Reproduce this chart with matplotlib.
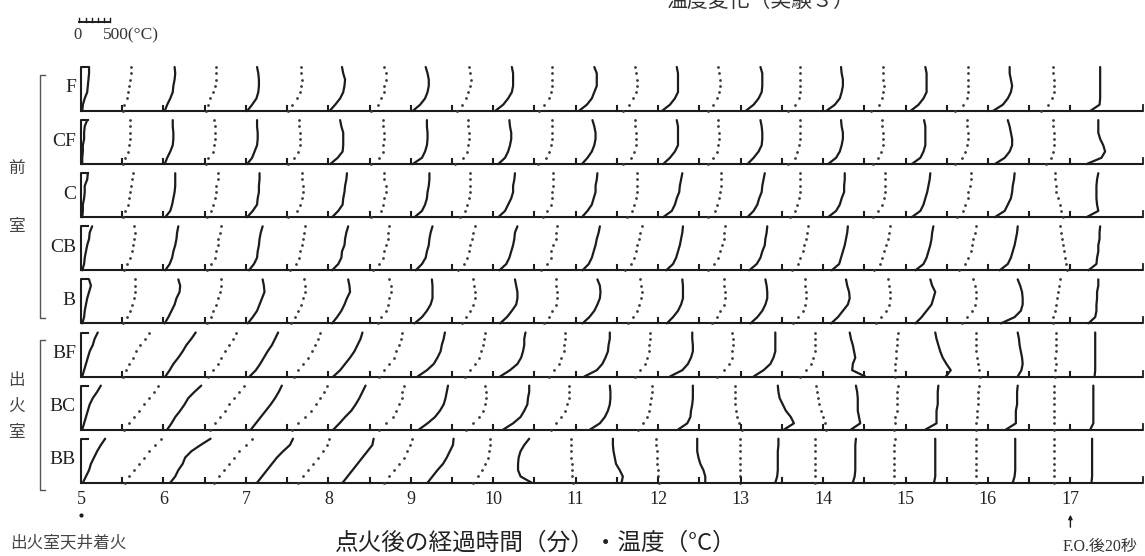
import numpy as np
import matplotlib
matplotlib.use("Agg")
import matplotlib.pyplot as plt

# sensor rows, top to bottom
rows = ["F", "CF", "C", "CB", "B", "BF", "BC", "BB"]

# measurement times (minutes after ignition)
times = [5.0, 5.5, 6.0, 6.5, 7.0, 7.5, 8.0, 8.5, 9.0, 9.5, 10.0, 10.5, 11.0,
         11.5, 12.0, 12.5, 13.0, 13.5, 14.0, 14.5, 15.0, 15.5, 16.0, 16.5, 17.0]
minute_labels = [5, 6, 7, 8, 9, 10, 11, 12, 13, 14, 15, 16, 17]

# temperature (deg C) at each thermocouple, floor -> ceiling, one list per time
F = [
    [20, 30, 60, 100, 110, 120, 130, 130],
    [20, 30, 70, 90, 110, 130, 140, 140],
    [20, 60, 110, 150, 160, 180, 190, 180],
    [20, 50, 80, 130, 160, 180, 190, 180],
    [20, 100, 170, 200, 210, 210, 200, 180],
    [20, 80, 160, 200, 220, 240, 230, 220],
    [20, 110, 190, 240, 260, 270, 240, 220],
    [20, 130, 190, 230, 240, 270, 270, 240],
    [30, 150, 230, 270, 290, 290, 270, 240],
    [80, 160, 220, 260, 290, 300, 290, 270],
    [30, 160, 240, 300, 320, 320, 320, 300],
    [80, 160, 240, 270, 290, 290, 290, 290],
    [50, 180, 260, 300, 340, 340, 340, 300],
    [100, 190, 260, 300, 320, 320, 300, 290],
    [60, 190, 270, 320, 320, 320, 320, 300],
    [140, 220, 290, 320, 340, 340, 320, 300],
    [80, 210, 290, 340, 350, 350, 350, 320],
    [100, 210, 270, 290, 300, 300, 290, 290],
    [50, 190, 270, 300, 320, 320, 300, 290],
    [110, 240, 290, 300, 320, 300, 300, 300],
    [80, 210, 290, 340, 340, 340, 340, 320],
    [140, 260, 320, 350, 350, 350, 350, 350],
    [80, 240, 320, 370, 390, 370, 350, 350],
    [190, 300, 370, 400, 400, 400, 390, 390],
    [320, 470, 480, 480, 480, 480, 480, 480],
]
CF = [
    [20, 20, 30, 30, 50, 50, 60, 100],
    [20, 50, 100, 110, 130, 130, 130, 130],
    [20, 60, 110, 150, 160, 160, 150, 150],
    [20, 60, 130, 150, 160, 160, 160, 150],
    [20, 100, 140, 180, 190, 190, 180, 180],
    [20, 110, 180, 210, 210, 210, 190, 190],
    [30, 150, 230, 240, 240, 240, 210, 190],
    [20, 160, 210, 220, 240, 240, 220, 210],
    [30, 180, 230, 260, 270, 270, 260, 260],
    [50, 180, 240, 260, 270, 270, 260, 260],
    [80, 190, 240, 270, 290, 290, 270, 260],
    [60, 190, 240, 270, 290, 290, 290, 290],
    [100, 190, 260, 300, 320, 320, 300, 270],
    [100, 220, 270, 300, 300, 300, 290, 290],
    [80, 190, 270, 320, 320, 320, 320, 300],
    [140, 220, 290, 300, 320, 320, 300, 300],
    [110, 210, 290, 340, 350, 350, 340, 320],
    [100, 210, 240, 270, 290, 290, 290, 290],
    [80, 210, 270, 300, 320, 320, 300, 290],
    [140, 220, 270, 300, 300, 300, 290, 290],
    [100, 240, 290, 320, 320, 320, 320, 300],
    [140, 240, 300, 320, 340, 340, 320, 320],
    [110, 270, 350, 390, 390, 370, 350, 320],
    [270, 350, 390, 400, 400, 400, 390, 390],
    [260, 500, 560, 530, 480, 450, 450, 450],
]
C = [
    [20, 30, 30, 50, 60, 60, 100, 110],
    [20, 50, 100, 110, 130, 140, 160, 180],
    [30, 110, 140, 160, 180, 190, 190, 190],
    [30, 100, 140, 160, 180, 190, 210, 210],
    [20, 110, 180, 190, 210, 210, 220, 220],
    [20, 160, 210, 240, 260, 260, 240, 240],
    [60, 160, 230, 240, 260, 270, 290, 300],
    [30, 190, 210, 240, 260, 260, 240, 240],
    [60, 180, 230, 260, 270, 290, 300, 300],
    [130, 210, 240, 270, 290, 290, 290, 290],
    [80, 190, 240, 290, 320, 320, 340, 350],
    [130, 210, 260, 290, 290, 300, 300, 300],
    [100, 190, 260, 290, 320, 320, 340, 350],
    [160, 240, 270, 300, 320, 320, 320, 320],
    [80, 220, 270, 300, 340, 350, 370, 390],
    [140, 260, 290, 320, 340, 350, 350, 350],
    [110, 210, 270, 300, 340, 350, 370, 390],
    [130, 210, 240, 270, 290, 290, 300, 300],
    [80, 210, 270, 300, 340, 340, 350, 350],
    [140, 220, 290, 320, 340, 340, 340, 340],
    [100, 240, 290, 320, 350, 370, 390, 400],
    [160, 260, 300, 340, 350, 370, 390, 390],
    [110, 270, 320, 370, 390, 400, 420, 430],
    [550, 510, 500, 470, 440, 430, 420, 420],
    [260, 450, 430, 420, 420, 420, 430, 450],
]
CB = [
    [20, 50, 60, 80, 100, 130, 140, 180],
    [30, 80, 130, 160, 180, 190, 210, 190],
    [30, 100, 140, 160, 190, 210, 220, 240],
    [30, 110, 160, 180, 210, 220, 240, 260],
    [50, 130, 180, 190, 210, 220, 240, 270],
    [50, 140, 190, 210, 240, 260, 270, 290],
    [60, 160, 210, 220, 260, 270, 290, 320],
    [50, 160, 220, 240, 270, 290, 300, 320],
    [80, 180, 240, 260, 290, 300, 320, 350],
    [100, 190, 240, 270, 290, 320, 340, 370],
    [100, 210, 260, 290, 320, 340, 350, 390],
    [110, 210, 260, 270, 300, 340, 350, 370],
    [110, 210, 260, 290, 320, 340, 370, 390],
    [130, 220, 270, 300, 320, 350, 370, 400],
    [130, 240, 290, 320, 350, 370, 390, 400],
    [140, 240, 300, 340, 370, 390, 400, 420],
    [140, 260, 320, 350, 390, 400, 420, 430],
    [160, 260, 300, 340, 350, 390, 400, 420],
    [140, 260, 290, 320, 350, 370, 390, 400],
    [160, 260, 290, 320, 350, 390, 400, 420],
    [160, 290, 340, 370, 400, 420, 430, 450],
    [190, 300, 340, 390, 400, 430, 450, 470],
    [190, 320, 370, 400, 430, 450, 470, 480],
    [610, 590, 570, 560, 540, 530, 510, 500],
    [290, 420, 430, 450, 450, 470, 470, 480],
]
B = [
    [20, 50, 60, 80, 100, 130, 160, 130],
    [20, 80, 130, 160, 190, 210, 210, 210],
    [20, 80, 130, 180, 210, 260, 270, 240],
    [30, 100, 130, 180, 210, 240, 260, 260],
    [30, 110, 180, 220, 260, 300, 290, 270],
    [60, 130, 180, 220, 260, 290, 290, 270],
    [60, 140, 210, 260, 300, 350, 340, 320],
    [130, 190, 260, 290, 320, 350, 350, 320],
    [60, 180, 260, 320, 350, 350, 350, 340],
    [160, 220, 290, 340, 370, 370, 350, 340],
    [110, 220, 300, 370, 390, 390, 370, 350],
    [160, 240, 290, 340, 370, 370, 350, 350],
    [110, 220, 300, 350, 390, 400, 390, 350],
    [180, 260, 320, 350, 390, 400, 390, 370],
    [140, 240, 320, 370, 400, 400, 400, 390],
    [210, 290, 340, 390, 420, 420, 400, 390],
    [160, 270, 350, 400, 430, 430, 420, 400],
    [180, 260, 340, 370, 390, 390, 370, 370],
    [130, 240, 320, 400, 430, 420, 390, 370],
    [190, 270, 350, 400, 420, 420, 400, 390],
    [160, 260, 340, 420, 450, 480, 430, 400],
    [240, 320, 400, 450, 470, 470, 450, 430],
    [210, 430, 530, 560, 560, 550, 520, 480],
    [390, 390, 420, 430, 450, 470, 480, 500],
    [290, 400, 420, 420, 430, 430, 450, 450],
]
BF = [
    [20, 50, 80, 110, 140, 190, 220, 270],
    [20, 60, 110, 180, 230, 290, 370, 430],
    [30, 100, 160, 240, 310, 370, 450, 520],
    [50, 130, 210, 270, 320, 390, 450, 500],
    [60, 160, 230, 290, 350, 420, 470, 520],
    [110, 180, 260, 340, 400, 450, 500, 530],
    [80, 190, 270, 350, 420, 470, 520, 550],
    [160, 240, 320, 400, 430, 470, 500, 520],
    [110, 260, 370, 430, 480, 500, 530, 550],
    [210, 290, 370, 430, 470, 500, 520, 530],
    [110, 270, 390, 450, 480, 500, 500, 520],
    [240, 320, 400, 430, 470, 480, 500, 500],
    [140, 340, 430, 480, 520, 530, 550, 550],
    [290, 370, 450, 480, 520, 520, 530, 530],
    [190, 390, 480, 530, 560, 560, 550, 550],
    [290, 390, 470, 520, 530, 550, 550, 530],
    [210, 370, 480, 530, 560, 560, 560, 560],
    [300, 390, 470, 500, 530, 530, 530, 530],
    [680, 470, 480, 520, 500, 480, 450, 430],
    [500, 500, 500, 510, 510, 520, 530, 550],
    [650, 730, 660, 600, 560, 530, 500, 480],
    [530, 520, 500, 490, 480, 480, 470, 470],
    [480, 540, 560, 550, 530, 510, 500, 480],
    [420, 420, 430, 420, 430, 430, 430, 430],
    [390, 400, 400, 400, 400, 400, 400, 400],
]
BC = [
    [20, 50, 80, 110, 140, 190, 260, 320],
    [30, 110, 190, 270, 350, 430, 520, 580],
    [60, 130, 190, 270, 340, 400, 500, 610],
    [80, 160, 240, 320, 400, 480, 560, 630],
    [80, 160, 240, 320, 400, 470, 530, 580],
    [80, 180, 290, 390, 470, 530, 600, 650],
    [80, 180, 270, 370, 440, 500, 550, 600],
    [160, 270, 370, 430, 480, 520, 530, 560],
    [130, 270, 390, 470, 530, 560, 580, 600],
    [230, 340, 430, 500, 530, 550, 550, 530],
    [160, 320, 440, 500, 550, 560, 580, 580],
    [260, 350, 430, 500, 530, 560, 560, 560],
    [230, 390, 470, 520, 550, 560, 560, 550],
    [340, 420, 480, 520, 530, 550, 560, 560],
    [320, 470, 520, 530, 550, 560, 560, 560],
    [690, 640, 600, 590, 580, 580, 580, 580],
    [700, 860, 810, 730, 680, 630, 610, 600],
    [710, 690, 660, 630, 600, 580, 560, 550],
    [450, 600, 580, 560, 560, 560, 550, 530],
    [480, 500, 500, 520, 520, 520, 530, 550],
    [320, 500, 500, 500, 520, 520, 520, 530],
    [480, 480, 490, 490, 500, 500, 510, 520],
    [290, 450, 450, 450, 470, 470, 470, 480],
    [400, 400, 400, 400, 400, 400, 400, 400],
    [320, 370, 370, 370, 370, 370, 370, 370],
]
BB = [
    [30, 80, 130, 160, 210, 260, 320, 390],
    [50, 110, 190, 270, 350, 430, 530, 630],
    [110, 190, 240, 310, 350, 450, 600, 760],
    [150, 230, 310, 390, 470, 550, 660, 770],
    [180, 260, 340, 420, 500, 600, 710, 760],
    [180, 260, 340, 420, 500, 580, 650, 680],
    [230, 310, 390, 470, 550, 630, 710, 730],
    [240, 320, 400, 480, 560, 610, 660, 680],
    [270, 350, 430, 520, 580, 630, 680, 690],
    [340, 420, 480, 530, 580, 600, 610, 610],
    [620, 440, 400, 400, 410, 440, 500, 580],
    [620, 610, 600, 600, 590, 590, 590, 590],
    [740, 760, 710, 650, 630, 610, 600, 600],
    [680, 670, 660, 650, 640, 640, 630, 630],
    [760, 760, 730, 680, 650, 630, 630, 630],
    [660, 650, 650, 650, 650, 650, 650, 650],
    [560, 590, 600, 600, 600, 600, 610, 610],
    [530, 530, 530, 530, 530, 530, 530, 540],
    [480, 510, 520, 520, 520, 520, 520, 530],
    [480, 480, 480, 480, 480, 480, 480, 490],
    [460, 480, 480, 480, 480, 480, 480, 480],
    [470, 470, 470, 470, 470, 470, 470, 470],
    [400, 430, 440, 440, 440, 440, 440, 440],
    [400, 400, 400, 400, 400, 400, 400, 400],
    [340, 350, 350, 350, 350, 350, 350, 350],
]
profiles = [F, CF, C, CB, B, BF, BC, BB]

# --- layout -------------------------------------------------------------
W, H = 1145, 556
PX_MIN = 82.45           # pixels per minute on the time axis
X5 = 81                  # pixel position of t = 5 min
DEG = 31 / PX_MIN / 500  # minutes of width per deg C (500 C = 31 px)
ROW0, ROW_STEP, PROF_H = 111, 53.1, 44
T_END = 5 + (1143 - X5) / PX_MIN
INK = "#1c1c1c"
DOT = "#3a3a3a"
levels = np.linspace(0, 1, 8)

fig = plt.figure(figsize=(W / 100, H / 100), dpi=100)
ax = fig.add_axes([0, 0, 1, 1])
ax.set_xlim(5 - X5 / PX_MIN, 5 + (W - X5) / PX_MIN)
ax.set_ylim(H, 0)
ax.axis("off")

serif = ["Liberation Serif", "DejaVu Serif"]
jp = ["Noto Sans CJK JP", "DejaVu Sans"]

for i, (name, data) in enumerate(zip(rows, profiles)):
    base = ROW0 + i * ROW_STEP
    top = base - PROF_H
    # baseline with end tick
    ax.plot([5, T_END], [base, base], color=INK, lw=1.5, solid_capstyle="butt")
    ax.plot([T_END, T_END], [base, base - 6], color=INK, lw=1.3)
    # height axis at the first reading
    ax.plot([5 + 0.09, 5, 5], [top, top, base], color=INK, lw=1.5)
    for t, temps in zip(times, data):
        if t > 5:
            ax.plot([t, t], [base, base - 5], color=INK, lw=1.5)
        xs = t + np.array(temps) * DEG
        ys = base - levels * PROF_H
        if float(t).is_integer():
            ax.plot(xs, ys, color=INK, lw=1.6, solid_joinstyle="round",
                    solid_capstyle="round")
        else:
            ax.plot(xs, ys, "o", ms=2.0, color=DOT, mew=0)
    ax.text(5 - 5 / PX_MIN, base - 23, name, ha="right", va="center",
            fontsize=14, family=serif, color="#222")

# temperature scale bar
bar_t = [0, 100, 200, 300, 400, 500]
bx = 5 - 0.02 + np.array(bar_t) * DEG
ax.plot([bx[0], bx[-1]], [22, 22], color=INK, lw=1.4)
for x in bx:
    ax.plot([x, x], [22, 18], color=INK, lw=1.0)

# time axis labels
for m in minute_labels:
    ax.text(m, 500, str(m), ha="center", va="center", fontsize=13,
            family=serif, color="#222")

ax.plot([5], [515], "o", ms=2, color=INK)
ax.annotate("", xy=(17, 512), xytext=(17, 530),
            arrowprops=dict(arrowstyle="-|>", lw=1.0, color=INK,
                            mutation_scale=6))

# annotations in pixel space
ov = fig.add_axes([0, 0, 1, 1])
ov.set_xlim(0, W)
ov.set_ylim(H, 0)
ov.axis("off")
ov.patch.set_alpha(0)

ov.text(77, 35, "0", ha="center", va="center", fontsize=12, family=serif,
        color="#333")
ov.text(103, 35, "500(°C)", ha="left", va="center", fontsize=12.5,
        family=serif, color="#333")

# room brackets
ov.plot([45, 40, 40, 45], [75, 75, 318, 318], color="#555", lw=1.0)
ov.plot([45, 40, 40, 45], [340, 340, 490, 490], color="#555", lw=1.0)
for ch, y in [("前", 168), ("室", 227), ("出", 380), ("火", 406), ("室", 433)]:
    ov.text(16, y, ch, ha="center", va="center", fontsize=12, family=jp,
            color="#444")

ov.text(10, 543, "出火室天井着火", ha="left", va="center", fontsize=12,
        family=jp, color="#444")
ov.text(536, 543, "点火後の経過時間（分）・温度（°C）", ha="center",
        va="center", fontsize=17, family=jp, color="#222")
ov.text(1100, 547, "F.O.後20秒", ha="center", va="center", fontsize=11.5,
        family=["Liberation Serif", "Noto Sans CJK JP"], color="#333")
ov.text(760, 1, "温度変化（実験３）", ha="center", va="center", fontsize=15,
        family=jp, color="#333")

fig.savefig("out.png", dpi=100)
